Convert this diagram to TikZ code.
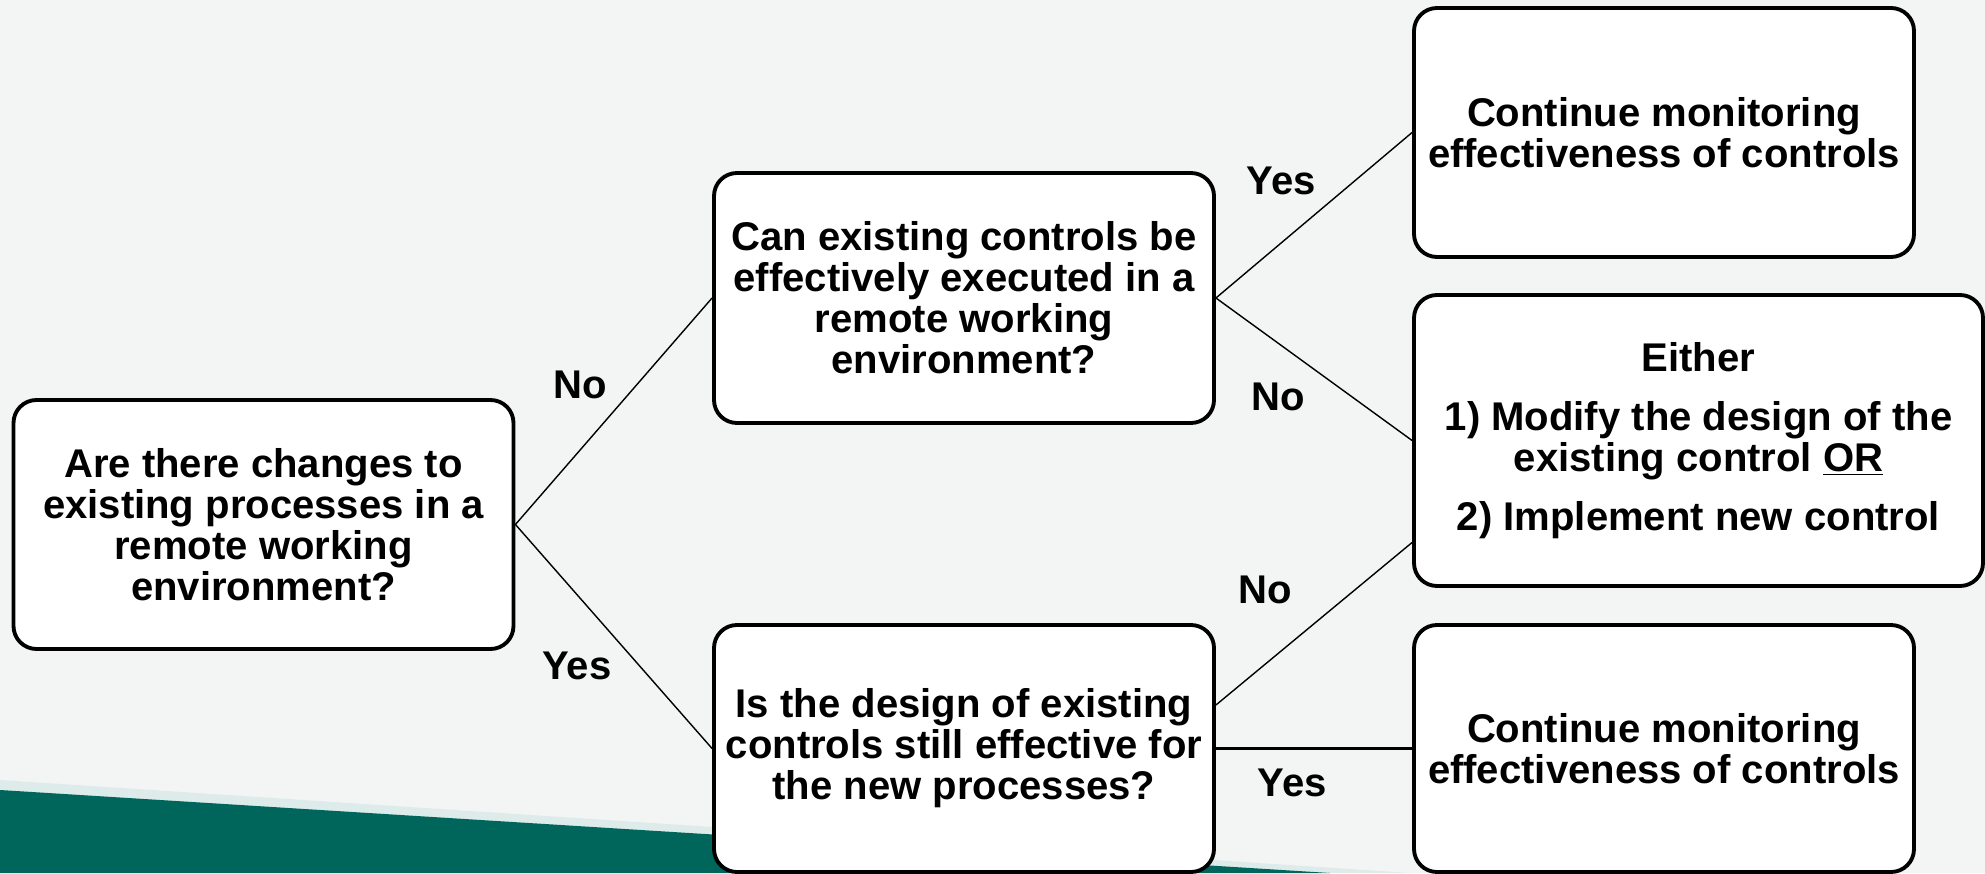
\documentclass[tikz,border=0pt]{standalone}
\usepackage{fontspec}
\setmainfont{Liberation Sans}
\usepackage{tikz}
\definecolor{paper}{HTML}{F3F4F4}
\definecolor{deepteal}{HTML}{00665C}
\definecolor{tealglow}{HTML}{DDEBEA}

\begin{document}
\begin{tikzpicture}[
    every node/.style={align=center, font=\fontsize{22.8pt}{23.3pt}\selectfont\bfseries},
    box/.style={rectangle, rounded corners=0.46cm, draw=black, line width=2.2pt,
      fill=white, inner sep=0pt, minimum width=10cm, minimum height=4.98cm},
    lbl/.style={inner sep=0pt},
    arr/.style={draw=black, line width=0.8pt}
  ]
    % ── Background
    \useasboundingbox (0,0) rectangle (39.7,17.46);
    \fill[paper] (0,0) rectangle (39.7,17.46);
    \fill[tealglow] (0,1.86) -- (28.2,0) -- (0,0) -- cycle;
    \fill[deepteal] (0,1.66) -- (26.6,0) -- (0,0) -- cycle;

    % ── Questions
    \node[box] (changes) at (5.27,6.97)
      {Are there changes to\\existing processes in a\\remote working\\environment?};
    \node[box, minimum height=5cm] (execute) at (19.28,11.5)
      {Can existing controls be\\effectively executed in a\\remote working\\environment?};
    \node[box, minimum height=4.94cm] (design) at (19.28,2.49)
      {Is the design of existing\\controls still effective for\\the new processes?};

    % ── Outcomes
    \node[box] (monitorA) at (33.28,14.81)
      {Continue monitoring\\effectiveness of controls};
    \node[box, minimum width=11.38cm, minimum height=5.82cm] (modify) at (33.97,8.65)
      {Either\\[0.36cm]1) Modify the design of the\\existing control \underline{OR}\\[0.36cm]2) Implement new control};
    \node[box, minimum height=4.94cm] (monitorB) at (33.28,2.49)
      {Continue monitoring\\effectiveness of controls};

    % ── Branches
    \draw[arr] (changes.east) -- (execute.west);
    \draw[arr] (changes.east) -- (design.west);
    \draw[arr] (execute.east) -- (monitorA.west);
    \draw[arr] (execute.east) -- (modify.west);
    \draw[arr] ([yshift=0.87cm]design.east) -- ([yshift=-2.04cm]modify.west);
    \draw[arr, line width=1.4pt] (design.east) -- (monitorB.west);

    % ── Branch labels
    \node[lbl] (noA) at (11.6,9.76) {No};
    \node[lbl] (yesA) at (11.54,4.14) {Yes};
    \node[lbl] (yesB) at (25.62,13.84) {Yes};
    \node[lbl] (noB) at (25.56,9.52) {No};
    \node[lbl] (noC) at (25.3,5.66) {No};
    \node[lbl] (yesC) at (25.84,1.8) {Yes};
  \end{tikzpicture}
\end{document}
